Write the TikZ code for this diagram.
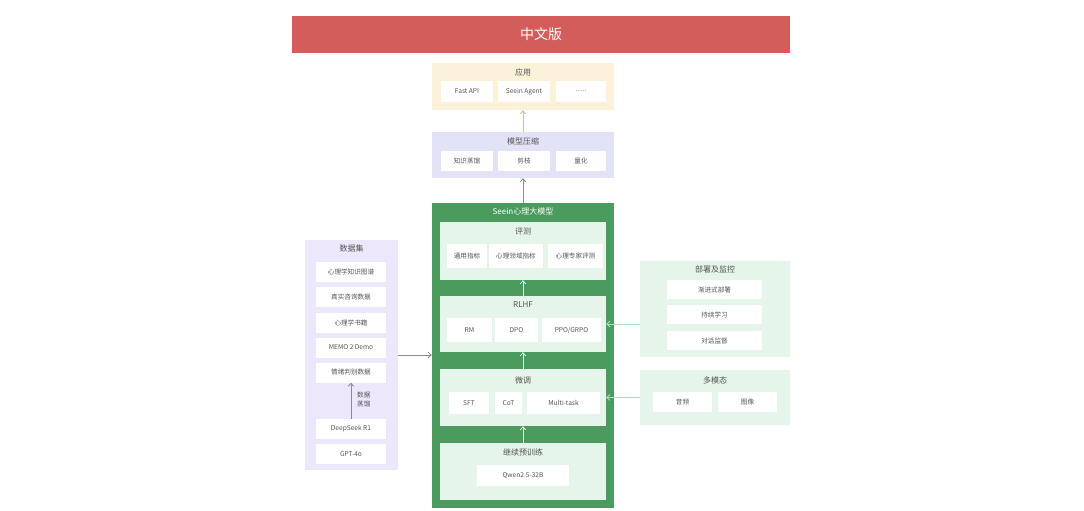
\documentclass[tikz,border=0pt]{standalone}
\usepackage{fontspec}
\setmainfont{Noto Sans CJK SC}
\usetikzlibrary{arrows.meta,calc}
\definecolor{bannerred}{HTML}{D35D5B}
\definecolor{appyellow}{HTML}{FCF2D9}
\definecolor{cmplilac}{HTML}{E3E3F8}
\definecolor{datalilac}{HTML}{EDE7FB}
\definecolor{seeingreen}{HTML}{4C9B5E}
\definecolor{palegreen}{HTML}{E5F5E9}
\definecolor{txtgrey}{HTML}{555555}
\definecolor{arrolive}{HTML}{C9C78E}
\definecolor{arrteal}{HTML}{6F9C8E}
\definecolor{arrlilac}{HTML}{8A86A3}
\definecolor{arrmint}{HTML}{B5DDBF}

\begin{document}
\begin{tikzpicture}[x=1pt, y=-1pt,
		panel/.style={fill=#1, draw=none, inner sep=0pt},
		item/.style={fill=white, inner sep=0pt, text=txtgrey, font=\fontsize{6.6}{8}\selectfont},
		title/.style={inner sep=0pt, text=txtgrey, font=\fontsize{8}{9}\selectfont},
		arr/.style={-{Straight Barb[length=3pt,width=5.5pt]}, line width=0.8pt, draw=#1}]
	\fill[white] (0,0) rectangle (1084,511);
	\useasboundingbox (0,0) rectangle (1084,511);

	% banner
	\node[panel=bannerred, minimum width=498, minimum height=37, text=white, font=\fontsize{14}{16}\selectfont] (banner) at (541,34.5) {中文版};

	% application layer
	\node[panel=appyellow, minimum width=182, minimum height=47] (app) at (523,86.5) {};
	\node[title] at (523,72) {应用};
	\node[item, minimum width=52, minimum height=21] (fastapi) at (467,91.5) {Fast API};
	\node[item, minimum width=52, minimum height=21] (agent) at (524,91.5) {Seein Agent};
	\node[item, minimum width=50, minimum height=21] (more) at (581,91.5) {......};

	% model compression
	\node[panel=cmplilac, minimum width=182, minimum height=46] (cmp) at (523,155) {};
	\node[title] at (523,141) {模型压缩};
	\node[item, minimum width=52, minimum height=20] (kd) at (467,161) {知识蒸馏};
	\node[item, minimum width=52, minimum height=20] (prune) at (524,161) {剪枝};
	\node[item, minimum width=50, minimum height=20] (quant) at (581,161) {量化};

	% main model
	\node[panel=seeingreen, minimum width=182, minimum height=305] (main) at (523,355.5) {};
	\node[title, text=white] at (523,211) {Seein心理大模型};

	\node[panel=palegreen, minimum width=166, minimum height=58] (eval) at (523,251) {};
	\node[title] at (523,231) {评测};
	\node[item, minimum width=40, minimum height=24] (gen) at (467,256) {通用指标};
	\node[item, minimum width=54, minimum height=24] (dom) at (516,256) {心理领域指标};
	\node[item, minimum width=55, minimum height=24] (expert) at (575.5,256) {心理专家评测};

	\node[panel=palegreen, minimum width=166, minimum height=56] (rlhf) at (523,324) {};
	\node[title] at (523,305) {RLHF};
	\node[item, minimum width=45, minimum height=24] (rm) at (469.5,330) {RM};
	\node[item, minimum width=43, minimum height=24] (dpo) at (516.5,330) {DPO};
	\node[item, minimum width=59, minimum height=24] (ppo) at (571.5,330) {PPO/GRPO};

	\node[panel=palegreen, minimum width=166, minimum height=57] (ft) at (523,397.5) {};
	\node[title] at (523,380) {微调};
	\node[item, minimum width=40, minimum height=22] (sft) at (469,403) {SFT};
	\node[item, minimum width=27, minimum height=22] (cot) at (508.5,403) {CoT};
	\node[item, minimum width=73, minimum height=22] (multi) at (563.5,403) {Multi-task};

	\node[panel=palegreen, minimum width=166, minimum height=57] (pt) at (523,471.5) {};
	\node[title] at (523,452) {继续预训练};
	\node[item, minimum width=92, minimum height=21] (qwen) at (523,475.5) {Qwen2.5-32B};

	% dataset
	\node[panel=datalilac, minimum width=93, minimum height=230] (ds) at (351.5,355) {};
	\node[title] at (351.5,248) {数据集};
	\node[item, minimum width=70, minimum height=20] (kg) at (351,272) {心理学知识图谱};
	\node[item, minimum width=70, minimum height=20] (real) at (351,297) {真实咨询数据};
	\node[item, minimum width=70, minimum height=20] (books) at (351,322.5) {心理学书籍};
	\node[item, minimum width=70, minimum height=20] (memo) at (351,347.5) {MEMO 2 Demo};
	\node[item, minimum width=70, minimum height=20] (emo) at (351,372.5) {情绪判别数据};
	\node[item, minimum width=70, minimum height=20] (ds1) at (351,429) {DeepSeek R1};
	\node[item, minimum width=70, minimum height=20] (gpt) at (351,454) {GPT-4o};
	\node[title, font=\fontsize{6.6}{9}\selectfont, align=left, anchor=west] (distil) at (357,400) {数据\\蒸馏};

	% deployment and monitoring
	\node[panel=palegreen, minimum width=150, minimum height=96] (dep) at (715,309) {};
	\node[title] at (715,269) {部署及监控};
	\node[item, minimum width=95, minimum height=19] (prog) at (714.5,289.5) {渐进式部署};
	\node[item, minimum width=95, minimum height=19] (cont) at (714.5,314.5) {持续学习};
	\node[item, minimum width=95, minimum height=19] (sup) at (714.5,340.5) {对话监督};

	% multimodal
	\node[panel=palegreen, minimum width=150, minimum height=55] (mm) at (715,397.5) {};
	\node[title] at (715,380) {多模态};
	\node[item, minimum width=59, minimum height=20] (audio) at (682.5,402) {音频};
	\node[item, minimum width=59, minimum height=20] (image) at (747.5,402) {图像};

	% connectors
	\draw[arr=arrolive] (cmp.north) -- (app.south);
	\draw[arr=arrteal] (main.north) -- (cmp.south);
	\draw[arr=palegreen] (rlhf.north) -- (eval.south);
	\draw[arr=palegreen] (ft.north) -- (rlhf.south);
	\draw[arr=palegreen] (pt.north) -- (ft.south);
	\draw[arr=arrlilac] (ds.east) -- (ds.east -| main.west);
	\draw[arr=arrlilac] (ds1.north) -- (emo.south);
	\draw[arr=arrmint] (dep.west |- rlhf.east) -- (rlhf.east);
	\draw[arr=arrmint] (mm.west) -- (ft.east);
\end{tikzpicture}
\end{document}
